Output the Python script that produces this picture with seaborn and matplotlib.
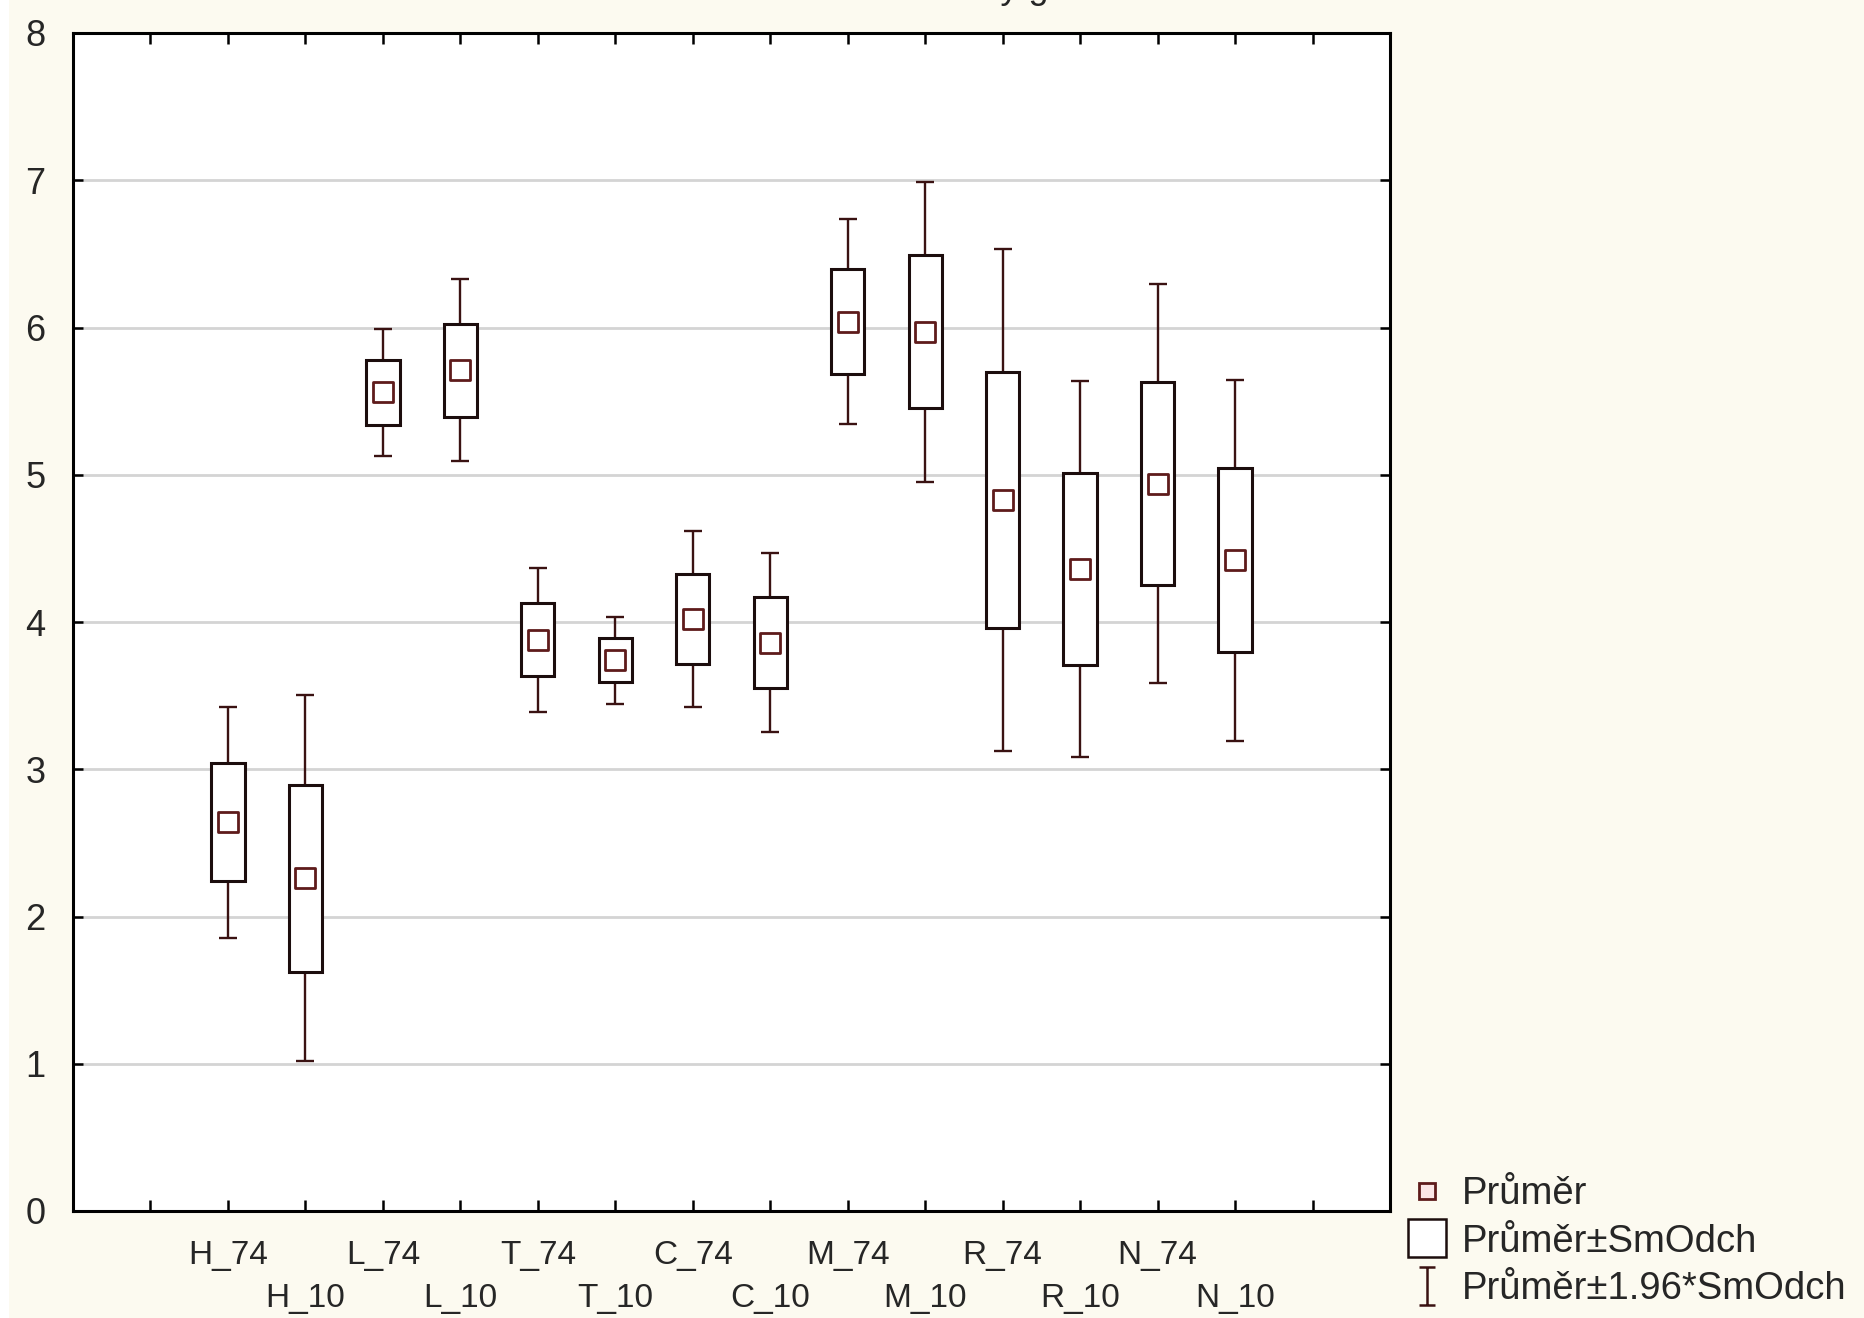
import numpy as np
import pandas as pd
import matplotlib
matplotlib.use("Agg")
import matplotlib.pyplot as plt
from matplotlib.lines import Line2D
from matplotlib.path import Path
from matplotlib.patches import Rectangle
import seaborn as sns

# Group means and standard deviations
categories = ["H_74", "H_10", "L_74", "L_10", "T_74", "T_10", "C_74",
              "C_10", "M_74", "M_10", "R_74", "R_10", "N_74", "N_10"]
means = [2.64, 2.26, 5.56, 5.71, 3.88, 3.74, 4.02,
         3.86, 6.04, 5.97, 4.83, 4.36, 4.94, 4.42]
sds = [0.40, 0.635, 0.22, 0.315, 0.25, 0.15, 0.305,
       0.31, 0.355, 0.52, 0.87, 0.65, 0.69, 0.625]
y_ticks = [0, 1, 2, 3, 4, 5, 6, 7, 8]
legend_labels = ["Průměr", "Průměr±SmOdch", "Průměr±1.96*SmOdch"]
title_text = "Krabicový graf"

df = pd.DataFrame({"kategorie": categories, "prumer": means, "smodch": sds})
df["pos"] = np.arange(len(df)) + 2
df["box_lo"] = df["prumer"] - df["smodch"]
df["ci"] = 1.96 * df["smodch"]

sns.set_style("white")
plt.rcParams["font.family"] = ["Liberation Sans", "DejaVu Sans"]

bg = "#fcfaf0"
line_col = "#3a1212"
box_col = "#1c0d0d"
mean_col = "#5e1b1b"

fig = plt.figure(figsize=(18.65, 13.18), dpi=100, facecolor=bg)
fig.patches.append(Rectangle((0, 0), 9 / 1865, 1, transform=fig.transFigure,
                             facecolor="white", edgecolor="none", zorder=0))
ax = fig.add_axes([73 / 1865, 1 - 1211 / 1318, (1390 - 73) / 1865, (1211 - 33) / 1318])
ax.set_facecolor("white")

# whiskers: mean ± 1.96*SD
ax.errorbar(df["pos"], df["prumer"], yerr=df["ci"], fmt="none", ecolor=line_col,
            elinewidth=1.7, capsize=6.5, capthick=1.7, zorder=2)
# boxes: mean ± SD
ax.bar(df["pos"], 2 * df["smodch"], bottom=df["box_lo"], width=0.43,
       facecolor="white", edgecolor=box_col, linewidth=2.2, zorder=3)
# means
sns.scatterplot(data=df, x="pos", y="prumer", marker="s", s=190, facecolor="white",
                edgecolor=mean_col, linewidth=2.0, zorder=4, ax=ax, legend=False)

ax.set_xlim(0, 17)
ax.set_ylim(0, 8)
ax.set_xlabel("")
ax.set_ylabel("")

xt = list(range(1, 17))
xl = [""] * len(xt)
for i, c in enumerate(categories):
    xl[i + 1] = c if i % 2 == 0 else "\n" + c
ax.set_xticks(xt, xl)
ax.set_yticks(y_ticks, [str(v) for v in y_ticks])

for lab in ax.get_xticklabels():
    lab.set_fontsize(24)
    lab.set_linespacing(1.5)
for lab in ax.get_yticklabels():
    lab.set_fontsize(26)

ax.tick_params(axis="x", direction="in", length=8, width=1.8, color="black",
               bottom=True, top=True, pad=21)
ax.tick_params(axis="y", direction="in", length=7, width=1.8, color="black",
               left=True, right=True, pad=20)

ax.yaxis.grid(True, color="#d4d4d4", linewidth=2.0)
ax.xaxis.grid(False)
ax.set_axisbelow(True)
for sp in ax.spines.values():
    sp.set_visible(True)
    sp.set_color("black")
    sp.set_linewidth(2.2)

# legend
whisker_marker = Path([(-0.45, -1), (0.45, -1), (0, -1), (0, 1), (-0.45, 1), (0.45, 1)],
                      [Path.MOVETO, Path.LINETO, Path.MOVETO, Path.LINETO,
                       Path.MOVETO, Path.LINETO])
handles = [
    Line2D([], [], linestyle="none", marker="s", markersize=12, markerfacecolor="#fbe6e6",
           markeredgecolor=mean_col, markeredgewidth=2.0),
    Line2D([], [], linestyle="none", marker="s", markersize=27, markerfacecolor="white",
           markeredgecolor=box_col, markeredgewidth=1.8),
    Line2D([], [], linestyle="none", marker=whisker_marker, markersize=27,
           markeredgecolor=line_col, markeredgewidth=1.8),
]
fig.legend(handles, legend_labels, loc="lower left",
           bbox_to_anchor=(1382 / 1865, -0.012), frameon=False,
           fontsize=27.5, handlelength=0.95, handletextpad=0.45, labelspacing=0.3,
           borderpad=0.2)

fig.text(0.523, 1.0015, title_text, ha="center", va="baseline", fontsize=26)

fig.savefig("out.png", dpi=100, facecolor=bg)
